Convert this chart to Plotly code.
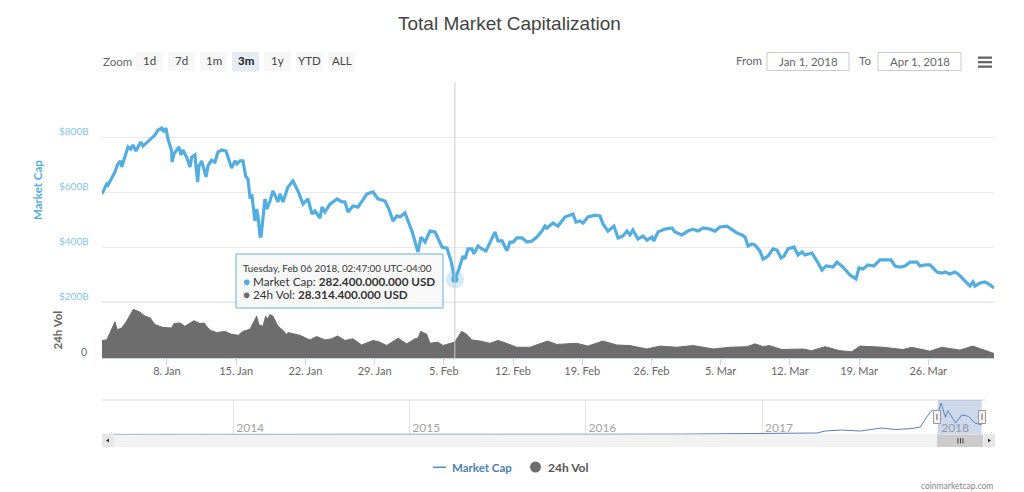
import pandas as pd
import plotly.graph_objects as go

W, H = 1024, 492
YEAR_START = pd.Timestamp("2018-01-01")

# Market cap: days after 1 Jan 2018, value in $B
cap_days = [0.43,0.90,1.03,1.33,1.74,2.04,2.32,2.42,2.75,3.06,3.33,3.56,3.86,4.34,4.57,5.08,5.79,6.09,6.46,6.70,6.90,7.10,7.48,7.51,7.71,8.21,8.42,8.62,9.02,9.33,9.50,9.83,10.10,10.24,10.51,10.95,11.15,11.52,11.86,12.16,12.53,12.97,13.54,13.88,14.08,14.38,14.69,14.96,15.19,15.40,15.60,15.90,16.07,16.20,16.41,16.51,16.71,16.91,17.11,17.42,17.72,18.03,18.23,18.43,18.73,19.24,19.74,20.25,20.76,21.26,21.67,21.97,22.48,22.68,22.98,23.49,24.20,24.70,25.00,25.31,25.81,26.32,26.72,27.23,27.84,28.34,29.05,29.45,29.86,30.26,30.57,31.07,31.78,32.39,32.69,33.10,33.60,34.11,34.82,35.32,35.73,36.116,36.54,36.94,37.14,37.45,37.85,38.05,38.46,38.86,39.27,39.67,40.18,40.48,40.89,41.39,41.69,42.00,42.40,42.91,43.41,43.92,44.42,44.93,45.23,45.44,46.04,46.55,47.26,48.07,48.37,48.77,49.08,49.58,50.29,50.80,51.10,51.61,52.21,52.62,53.12,53.53,53.83,54.13,54.64,55.15,55.55,56.06,56.26,56.66,57.37,58.08,58.38,59.09,59.70,60.20,60.71,61.22,61.92,62.43,62.94,63.64,64.15,64.66,65.16,65.47,65.77,66.17,66.48,66.98,67.29,67.79,68.30,68.70,69.11,69.41,69.81,70.42,70.83,71.23,71.53,72.24,72.75,73.25,73.66,74.37,74.77,75.38,76.09,76.69,77.00,77.40,77.91,78.51,79.12,79.73,80.23,80.64,81.15,81.65,82.16,82.86,83.17,83.67,84.18,84.89,85.39,85.69,86.20,86.70,87.01,87.51,88.22,88.52,88.73,89.23,89.74,90.25,90.65]
cap_values = [593,629,625,647,673,702,713,691,727,764,756,771,749,782,767,785,807,825,833,818,833,793,749,709,738,764,735,753,724,691,727,735,636,695,713,655,695,716,709,745,753,749,687,713,702,713,713,658,647,582,585,495,538,513,440,436,520,575,538,567,604,582,564,593,564,618,640,604,556,575,520,531,505,545,527,556,575,564,564,527,549,545,567,593,600,575,567,538,495,513,509,524,458,382,436,418,458,455,400,396,349,282.4,320,367,356,393,393,375,404,393,386,418,455,422,422,386,418,418,433,433,418,422,436,458,476,469,487,476,509,520,491,495,487,509,516,513,484,458,476,433,440,458,444,462,429,440,425,436,422,455,465,469,455,444,458,465,458,469,465,458,473,476,465,451,444,436,404,411,407,385,356,367,393,389,360,367,393,400,371,382,371,378,349,316,331,327,345,327,298,284,324,320,335,331,353,353,353,331,327,331,345,345,331,335,335,309,305,309,302,309,302,284,258,273,258,269,273,262,251]

# 24h volume: days after 1 Jan 2018, value in $B
vol_days = [0.43,0.90,1.23,1.74,1.97,2.42,2.92,3.60,4.27,4.78,5.28,5.79,6.60,7.48,7.71,8.32,8.82,9.73,10.34,10.74,11.35,12.03,12.87,13.54,14.21,14.69,15.40,15.90,16.07,16.30,16.71,16.98,17.18,17.42,17.72,18.23,18.73,19.11,19.24,20.45,21.46,22.14,22.98,23.66,24.26,25.00,25.81,26.69,27.84,28.54,29.22,30.37,31.25,32.09,32.39,32.66,33.27,33.60,34.41,34.92,35.62,36.12,36.80,37.31,37.81,38.65,39.67,40.48,41.19,42.38,43.72,45.50,46.43,48.45,49.58,51.10,52.49,53.83,55.53,56.87,58.56,60.20,62.24,63.95,65.64,66.48,66.98,67.30,67.90,69.20,71.34,72.20,73.56,75.07,76.26,77.10,79.43,81.45,82.33,84.18,85.36,87.20,88.50,89.90,90.65]
vol_values = [31,32,44,64,50,53,65,86,81,74,71,59,54,53,61,62,56,66,61,62,49,45,47,42,40,47,51,68,74,59,56,74,69,77,74,56,49,41,45,40,32,38,32,34,39,31,34,23,31,28,22,35,25,34,35,47,42,26,28,22,25,28.3,47,42,32,30,26,31,27,19,19,30,24,26,21,30,23,22,16,21,19,22,16,19,20,25,22,20,22,15,16,13,20,13,11,21,19,15,19,12,19,14,21,12,8]

# Navigator: long-range market cap in $B
nav_dates = ["2013-04-04","2013-07-01","2013-10-01","2013-12-05","2014-01-15","2014-06-15","2015-01-15","2015-07-15","2016-01-15","2016-07-15","2017-01-15","2017-04-25","2017-05-12","2017-06-13","2017-07-24","2017-09-05","2017-10-05","2017-11-07","2017-11-25","2017-12-08","2017-12-20","2018-01-01","2018-01-07","2018-01-16","2018-01-21","2018-02-06","2018-02-19","2018-03-05","2018-03-18","2018-04-01"]
nav_values = [2,1,2,14,10,8,4,4,7,10,17,39,91,117,91,169,130,156,195,455,637,570,819,450,620,300,510,470,300,250]

main_tickvals = [200,400,600,800,1000]
main_ticktext = ["$200B","$400B","$600B","$800B",""]
x_tickvals = ["2018-01-08","2018-01-15","2018-01-22","2018-01-29","2018-02-05","2018-02-12","2018-02-19","2018-02-26","2018-03-05","2018-03-12","2018-03-19","2018-03-26"]
x_ticktext = ["8. Jan","15. Jan","22. Jan","29. Jan","5. Feb","12. Feb","19. Feb","26. Feb","5. Mar","12. Mar","19. Mar","26. Mar"]
nav_tickvals = ["2014-01-01","2015-01-01","2016-01-01","2017-01-01","2018-01-01"]
nav_ticktext = ["2014","2015","2016","2017","2018"]
zoom_labels = ["1d","7d","1m","3m","1y","YTD","ALL"]
tip_date = "2018-02-06 02:47:00"
tip_cap = 282.4

def px(x): return x / W
def py(y): return 1 - y / H
def when(days): return [YEAR_START + pd.Timedelta(days=float(d)) for d in days]

FONT = "Lato, 'Open Sans', sans-serif"
CAP = "#52aee0"
VOL = "#6d6d6d"

fig = go.Figure()
fig.add_trace(go.Scatter(x=when(vol_days), y=vol_values, xaxis="x2", yaxis="y2", mode="lines",
    line=dict(color=VOL, width=1), fill="tozeroy", fillcolor=VOL, name="24h Vol", hoverinfo="skip"))
fig.add_trace(go.Scatter(x=when(cap_days), y=cap_values, xaxis="x", yaxis="y", mode="lines",
    line=dict(color=CAP, width=3.2), name="Market Cap", hoverinfo="skip"))
fig.add_trace(go.Scatter(x=[tip_date], y=[tip_cap], xaxis="x", yaxis="y", mode="markers",
    marker=dict(size=18, color="rgba(82,174,224,0.25)"), hoverinfo="skip"))
fig.add_trace(go.Scatter(x=[tip_date], y=[tip_cap], xaxis="x", yaxis="y", mode="markers",
    marker=dict(size=7, color=CAP), hoverinfo="skip"))
fig.add_trace(go.Scatter(x=nav_dates, y=nav_values, xaxis="x3", yaxis="y3", mode="lines",
    line=dict(color="#5a7fb8", width=1), hoverinfo="skip"))

shapes, ann = [], []
def rect(x0, y0, x1, y1, fill, line=None, lw=1, layer="above"):
    shapes.append(dict(type="rect", xref="paper", yref="paper", x0=px(x0), x1=px(x1), y0=py(y0), y1=py(y1),
                       fillcolor=fill, line=dict(color=line or fill, width=lw if line else 0), layer=layer))
def text(x, y, s, size=11, color="#666", anchor="left", angle=0, family=FONT):
    ann.append(dict(xref="paper", yref="paper", x=px(x), y=py(y), text=s, showarrow=False, xanchor=anchor,
                    yanchor="middle", textangle=angle, font=dict(size=size, color=color, family=family),
                    borderpad=0, align="left"))

# title
text(509.5, 23.5, "Total Market Capitalization", size=19, color="#444", anchor="center", family="'Liberation Sans', Arial, sans-serif")

# y tick labels sit just above their grid lines
for val, lab in zip(main_tickvals, main_ticktext):
    if lab:
        ann.append(dict(xref="paper", yref="y", x=px(90), y=val, yshift=6, text=lab, showarrow=False, xanchor="right",
                        yanchor="middle", font=dict(size=10, color="#85c5ea", family=FONT), borderpad=0))
ann.append(dict(xref="paper", yref="y2", x=px(88), y=0, yshift=6, text="0", showarrow=False, xanchor="right",
                yanchor="middle", font=dict(size=10.5, color="#666", family=FONT), borderpad=0))

# zoom buttons
text(102, 61, "Zoom", 11.5, "#666")
btn_x = [136, 168, 200, 232, 264, 296, 328]
for bx, lab in zip(btn_x, zoom_labels):
    sel = lab == "3m"
    rect(bx, 52, bx + 27, 71, "#e6ebf5" if sel else "#f7f7f7", layer="below")
    text(bx + 13.5, 60.5, f"<b>{lab}</b>" if sel else lab, 11.5, "#222" if sel else "#444", "center")

# date inputs
text(735, 60.5, "From", 11.5, "#666")
text(858, 60.5, "To", 11.5, "#666")
for x0, x1, lab in [(767, 849, "Jan 1, 2018"), (878, 961, "Apr 1, 2018")]:
    rect(x0, 52.5, x1, 70.5, "#ffffff", "#cccccc", layer="below")
    text((x0 + x1) / 2, 61, lab, 11.5, "#666", "center")
for y0 in (56.5, 61, 65.5):
    rect(978, y0, 992, y0 + 2.3, "#666666")

# axis captions
text(37, 190, "<b>Market Cap</b>", 11.5, CAP, "center", -90)
text(56.5, 330, "<b>24h Vol</b>", 11.5, "#666", "center", -90)

# divider between panels
rect(102, 301.5, 994, 303, "#e6e6e6", layer="below")

# crosshair from data position
shapes.append(dict(type="line", xref="x", yref="paper", x0=tip_date, x1=tip_date, y0=py(358), y1=py(82),
                   line=dict(color="#cccccc", width=1), layer="above"))

# tooltip
rect(236, 254, 443, 308, "rgba(247,247,247,0.88)", "#66b3d6", 1)
text(242, 268, "Tuesday, Feb 06 2018, 02:47:00 UTC-04:00", 9.8, "#333")
text(242, 280.5, f"<span style='color:{CAP}'>●</span> Market Cap: <b>282.400.000.000 USD</b>", 11.7, "#333")
text(242, 293.5, f"<span style='color:{VOL}'>●</span> 24h Vol: <b>28.314.400.000 USD</b>", 11.7, "#333")

# navigator
rect(102, 399.6, 985, 400.4, "#d8d8d8", layer="below")
shapes.append(dict(type="rect", xref="x3", yref="paper", x0="2018-01-01", x1="2018-04-01", y0=py(434), y1=py(400),
                   fillcolor="rgba(102,133,194,0.32)", line=dict(width=0), layer="above"))
rect(102, 434, 995, 447, "#f2f2f2", layer="below")
rect(102, 434, 114, 447, "#e6e6e6")
rect(984, 434, 995, 447, "#e6e6e6")
rect(937, 434.5, 983, 447, "#cccccc")
for tx in (957.5, 960, 962.5):
    rect(tx, 438, tx + 0.9, 443.5, "#333333")
for tx in (937, 982):
    rect(tx - 3.5, 410.5, tx + 3.5, 423.5, "#f4f4f4", "#999999", 1)
    rect(tx - 1, 414, tx + 1, 420, "#aaaaaa")
shapes.append(dict(type="path", xref="paper", yref="paper", layer="above", fillcolor="#333", line=dict(width=0),
                   path=f"M {px(106)} {py(440.5)} L {px(109)} {py(438.5)} L {px(109)} {py(442.5)} Z"))
shapes.append(dict(type="path", xref="paper", yref="paper", layer="above", fillcolor="#333", line=dict(width=0),
                   path=f"M {px(991)} {py(440.5)} L {px(988)} {py(438.5)} L {px(988)} {py(442.5)} Z"))

# legend
rect(433, 466.5, 446, 468, "#4f94c8")
text(451, 467.5, "<b>Market Cap</b>", 11.5, "#4a7fb5")
shapes.append(dict(type="circle", xref="paper", yref="paper", x0=px(530), x1=px(541), y0=py(472.5), y1=py(461.5),
                   fillcolor=VOL, line=dict(width=0)))
text(547, 467.5, "<b>24h Vol</b>", 12, "#555")
text(994, 486, "coinmarketcap.com", 8.5, "#888", "right")

fig.update_layout(
    width=W, height=H, margin=dict(l=0, r=0, t=0, b=0), autosize=False,
    paper_bgcolor="white", plot_bgcolor="rgba(0,0,0,0)", showlegend=False,
    font=dict(family=FONT, size=11, color="#666"), shapes=shapes, annotations=ann,
    xaxis=dict(domain=[px(102), px(994)], anchor="y", matches="x2", showticklabels=False, showgrid=False,
               zeroline=False, showline=False, ticks=""),
    xaxis2=dict(domain=[px(102), px(994)], anchor="y2", range=["2018-01-01 10:19", "2018-04-01 15:36"],
                tickmode="array", tickvals=x_tickvals, ticktext=x_ticktext, ticks="outside", ticklen=6,
                tickcolor="#ccd6eb", showgrid=False, showline=True, linecolor="#ccd6eb", zeroline=False,
                ticklabelstandoff=-3, tickfont=dict(size=11, color="#666", family=FONT)),
    yaxis=dict(domain=[py(302), py(82)], range=[200, 1000], anchor="x", tickmode="array", tickvals=main_tickvals,
               showticklabels=False, gridcolor="#e9e9e9", zeroline=False, showline=False, ticks=""),
    yaxis2=dict(domain=[py(358), py(302)], range=[0, 99], anchor="x2", showticklabels=False,
                showgrid=False, zeroline=False, showline=False, ticks=""),
    xaxis3=dict(domain=[px(102), px(985)], anchor="y3", range=["2013-04-04", "2018-04-08"], tickmode="array",
                tickvals=nav_tickvals, ticktext=nav_ticktext, showgrid=True, gridcolor="#e4e4e4", zeroline=False,
                showline=False, ticks="", ticklabelposition="inside right", ticklabelshift=3, ticklabelstandoff=-6,
                tickfont=dict(size=12, color="#a3a3a3", family=FONT)),
    yaxis3=dict(domain=[py(434.5), py(400)], range=[0, 897], anchor="x3", showticklabels=False, showgrid=False,
                zeroline=False, showline=False, ticks=""),
)

fig.write_html("out.html", config=dict(displayModeBar=False), post_script="document.body.style.margin='0';")
